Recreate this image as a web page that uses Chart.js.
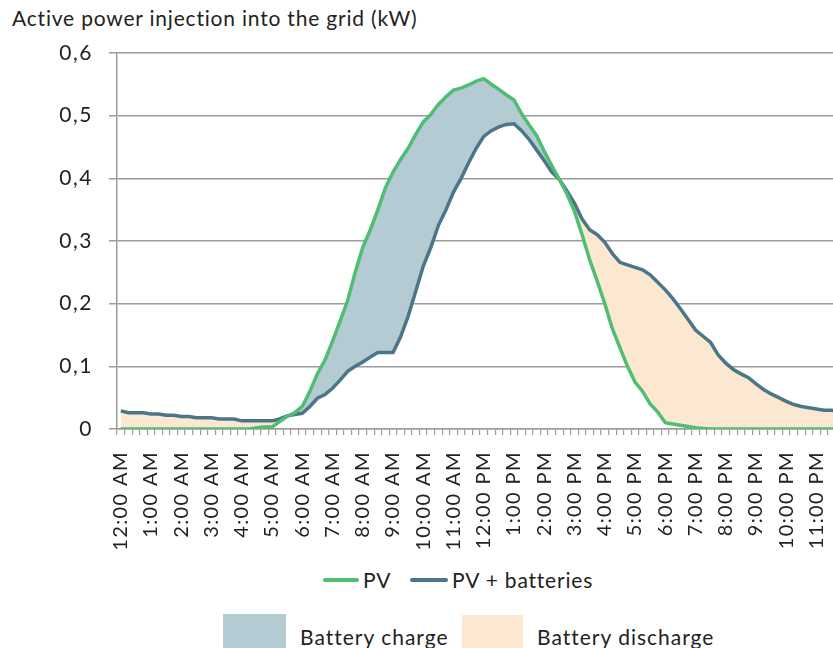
<!DOCTYPE html>
<html lang="en">
<head>
  <meta charset="UTF-8" />
  <title>Active power injection into the grid</title>
  <script src="https://cdn.jsdelivr.net/npm/chart.js"></script>
  <style>
    body {
      margin: 0;
      width: 833px;
      height: 648px;
      overflow: hidden;
      background: #fff;
      font-family: Lato, 'Open Sans', sans-serif;
      color: #222;
      position: relative;
    }
    .title {
      position: absolute;
      left: 12px;
      top: 5px;
      font-size: 21px;
      letter-spacing: 0.8px;
      white-space: nowrap;
    }
    .chart-box {
      position: absolute;
      left: 0;
      top: 0;
      width: 850px;
      height: 560px;
    }
    .legend-item {
      position: absolute;
      font-size: 21px;
      white-space: nowrap;
      line-height: 1;
    }
    .swatch-line {
      position: absolute;
      height: 4px;
      border-radius: 2px;
    }
    .swatch-box {
      position: absolute;
    }
  </style>
</head>
<body>
  <div class="title">Active power injection into the grid (kW)</div>

  <div class="chart-box">
    <canvas id="powerChart" width="850" height="560"></canvas>
  </div>

  <!-- line legend -->
  <div class="swatch-line" style="left:323px; top:578px; width:36px; background:#4fbe72;"></div>
  <div class="legend-item" style="left:363px; top:569px; letter-spacing:0.8px;">PV</div>
  <div class="swatch-line" style="left:410px; top:578px; width:38px; background:#4a7687;"></div>
  <div class="legend-item" style="left:452px; top:569px; letter-spacing:0.8px;">PV + batteries</div>

  <!-- area legend -->
  <div class="swatch-box" style="left:223px; top:614px; width:63px; height:40px; background:#b4cbd4;"></div>
  <div class="legend-item" style="left:300px; top:626px; letter-spacing:1px;">Battery charge</div>
  <div class="swatch-box" style="left:462px; top:615px; width:61px; height:40px; background:#fce7d1;"></div>
  <div class="legend-item" style="left:537px; top:626px; letter-spacing:1px;">Battery discharge</div>

  <script>
    // hourly tick labels, data is every 15 minutes
    const hourLabels = [
      "12:00 AM", "1:00 AM", "2:00 AM", "3:00 AM", "4:00 AM", "5:00 AM",
      "6:00 AM", "7:00 AM", "8:00 AM", "9:00 AM", "10:00 AM", "11:00 AM",
      "12:00 PM", "1:00 PM", "2:00 PM", "3:00 PM", "4:00 PM", "5:00 PM",
      "6:00 PM", "7:00 PM", "8:00 PM", "9:00 PM", "10:00 PM", "11:00 PM"
    ];
    const quarters = ["00", "15", "30", "45"];

    const pvValues = [
      0, 0, 0, 0, 0, 0, 0, 0,
      0, 0, 0, 0, 0, 0, 0, 0,
      0, 0, 0.002, 0.003, 0.003, 0.012, 0.020, 0.026,
      0.036, 0.060, 0.088, 0.110, 0.140, 0.172, 0.205, 0.250,
      0.290, 0.318, 0.350, 0.385, 0.410, 0.430, 0.448, 0.470,
      0.490, 0.502, 0.518, 0.530, 0.541, 0.544, 0.549, 0.555,
      0.559, 0.550, 0.542, 0.533, 0.525, 0.503, 0.485, 0.468,
      0.443, 0.420, 0.398, 0.375, 0.347, 0.310, 0.270, 0.236,
      0.200, 0.160, 0.130, 0.100, 0.075, 0.060, 0.040, 0.027,
      0.010, 0.008, 0.006, 0.004, 0.002, 0.001, 0, 0,
      0, 0, 0, 0, 0, 0, 0, 0,
      0, 0, 0, 0, 0, 0, 0, 0
    ];

    const pvBatteryValues = [
      0.029, 0.026, 0.026, 0.026, 0.024, 0.024, 0.022, 0.022,
      0.020, 0.020, 0.018, 0.018, 0.018, 0.016, 0.016, 0.016,
      0.013, 0.013, 0.013, 0.013, 0.013, 0.016, 0.021, 0.023,
      0.025, 0.036, 0.049, 0.055, 0.065, 0.078, 0.092, 0.100,
      0.107, 0.115, 0.122, 0.122, 0.122, 0.147, 0.180, 0.220,
      0.260, 0.290, 0.325, 0.350, 0.378, 0.400, 0.425, 0.448,
      0.467, 0.476, 0.482, 0.486, 0.487, 0.476, 0.462, 0.445,
      0.428, 0.410, 0.398, 0.380, 0.360, 0.335, 0.318, 0.310,
      0.298, 0.280, 0.266, 0.262, 0.258, 0.254, 0.246, 0.234,
      0.222, 0.208, 0.192, 0.175, 0.158, 0.148, 0.138, 0.118,
      0.105, 0.095, 0.088, 0.082, 0.072, 0.063, 0.056, 0.050,
      0.044, 0.039, 0.036, 0.034, 0.032, 0.030, 0.030, 0.028
    ];

    const yTicks = [0, 0.1, 0.2, 0.3, 0.4, 0.5, 0.6];

    const labels = [];
    hourLabels.forEach(h => {
      quarters.forEach(q => labels.push(h.replace(":00", ":" + q)));
    });

    const fontFamily = "Lato, 'Open Sans', sans-serif";
    const gridColor = "#9c9c9c";

    // y labels are drawn before the datasets, x labels (z: 1) after them,
    // so the spacing can differ per axis
    const spacingPlugin = {
      id: "labelSpacing",
      beforeDraw(chart) { chart.ctx.letterSpacing = "1.5px"; },
      afterDatasetsDraw(chart) { chart.ctx.letterSpacing = "1.4px"; },
      afterDraw(chart) { chart.ctx.letterSpacing = "0px"; }
    };

    const ctx = document.getElementById("powerChart").getContext("2d");
    new Chart(ctx, {
      type: "line",
      data: {
        labels: labels,
        datasets: [
          {
            label: "PV",
            data: pvValues,
            borderColor: "#4fbe72",
            borderWidth: 3.5,
            pointRadius: 0,
            tension: 0,
            fill: false
          },
          {
            label: "PV + batteries",
            data: pvBatteryValues,
            borderColor: "#4a7687",
            borderWidth: 3.5,
            pointRadius: 0,
            tension: 0,
            fill: {
              target: 0,
              above: "#fce7d1",
              below: "#b4cbd4"
            }
          }
        ]
      },
      options: {
        responsive: false,
        animation: false,
        layout: {
          padding: { left: 0, right: 7, top: 53, bottom: 0 }
        },
        plugins: {
          legend: { display: false },
          title: { display: false },
          tooltip: { enabled: false }
        },
        scales: {
          x: {
            type: "category",
            offset: true,
            afterFit: (scale) => {
              scale.height = 131;
              scale.paddingLeft = 0;
              scale.paddingRight = 0;
            },
            border: { color: gridColor, width: 1.5 },
            grid: {
              offset: true,
              drawOnChartArea: false,
              drawTicks: true,
              tickLength: 6,
              color: gridColor,
              lineWidth: 1.2
            },
            ticks: {
              z: 1,
              autoSkip: false,
              minRotation: 90,
              maxRotation: 90,
              padding: 16,
              color: "#222",
              font: { family: fontFamily, size: 20 },
              callback: function (value, index) {
                return index % 4 === 0 ? hourLabels[index / 4] : "";
              }
            }
          },
          y: {
            min: 0,
            max: 0.6,
            afterFit: (scale) => { scale.width = 117; },
            afterBuildTicks: (scale) => {
              scale.ticks = yTicks.map(v => ({ value: v }));
            },
            border: { color: gridColor, width: 1.5 },
            grid: {
              color: gridColor,
              lineWidth: 1.5,
              tickLength: 8
            },
            ticks: {
              padding: 16,
              color: "#222",
              font: { family: fontFamily, size: 21 },
              callback: function (value) {
                return value === 0 ? "0" : value.toFixed(1).replace(".", ",");
              }
            }
          }
        }
      },
      plugins: [spacingPlugin]
    });
  </script>
</body>
</html>
